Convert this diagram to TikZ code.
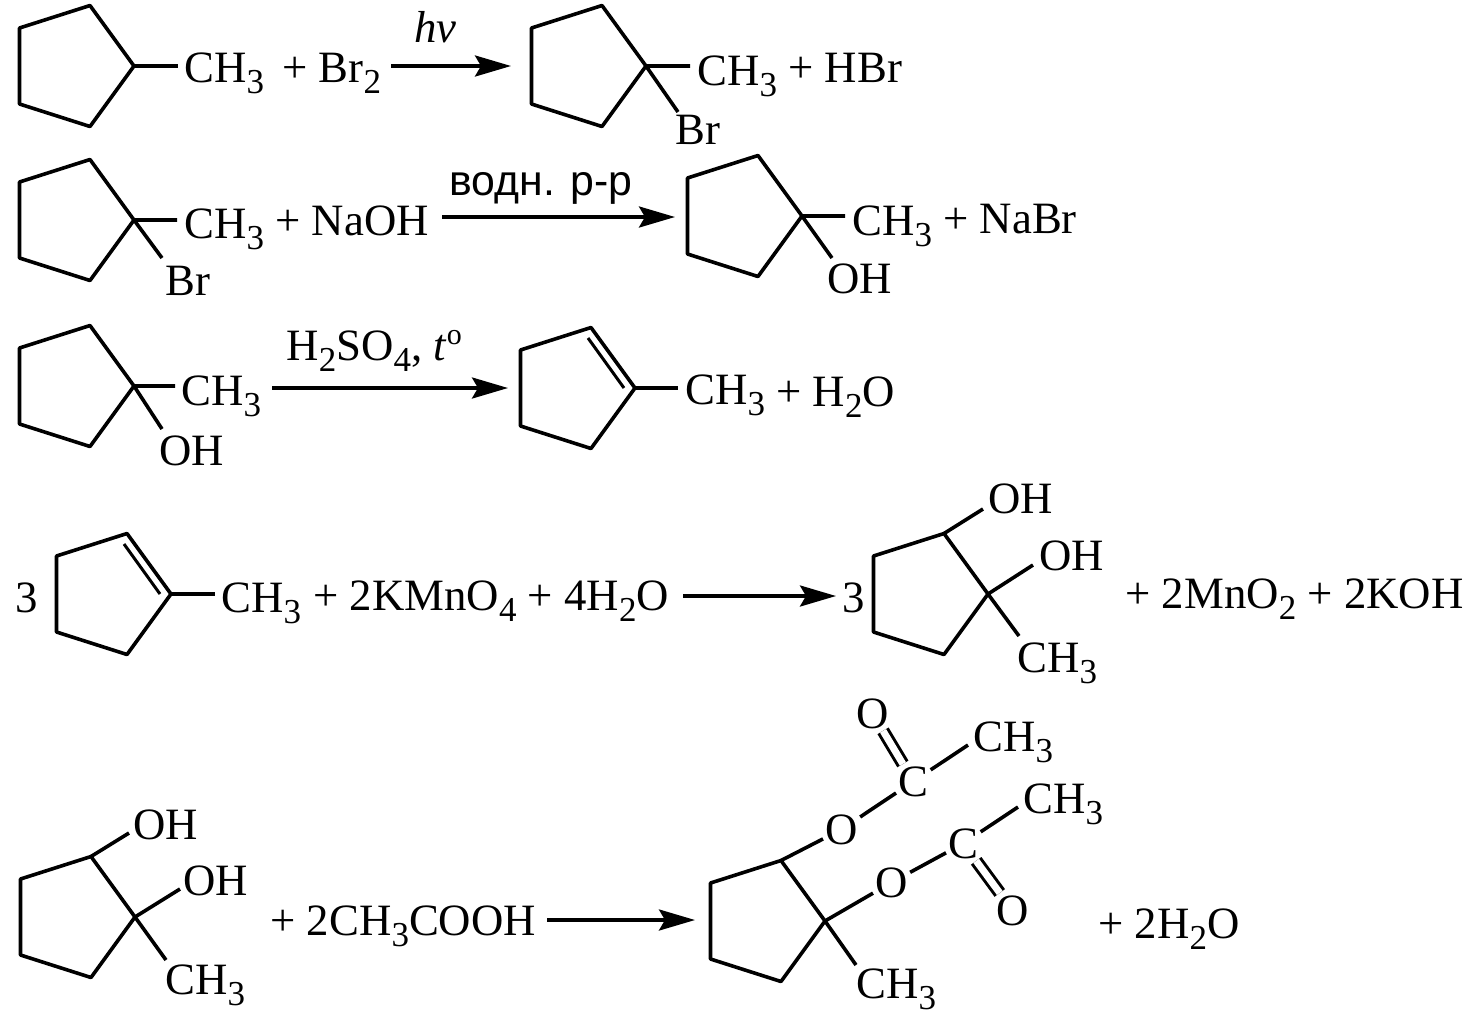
\documentclass[tikz,border=0pt]{standalone}
\usepackage{fontspec}
\setmainfont{Liberation Serif}
\newfontfamily\sansfont{Liberation Sans}
\usetikzlibrary{arrows.meta}
\newcommand{\sbs}[1]{\raisebox{-5.5pt}{\fontsize{17.5}{18}\selectfont #1}}
\newcommand{\sps}[1]{\raisebox{8pt}{\fontsize{15}{16}\selectfont #1}}
% saturated ring, #1 = prefix, (#2,#3) = right vertex
\newcommand{\cyclo}[3]{
  \coordinate (#1a) at (#2,#3);
  \coordinate (#1b) at (#2-44,#3-60.5);
  \coordinate (#1c) at (#2-114.5,#3-38);
  \coordinate (#1d) at (#2-114.5,#3+38);
  \coordinate (#1e) at (#2-44,#3+60.5);
  \draw[bond] (#1a) -- (#1b) -- (#1c) -- (#1d) -- (#1e) -- cycle;
}
% ring with double bond a=b
\newcommand{\cyclene}[3]{
  \cyclo{#1}{#2}{#3}
  \coordinate (#1p) at (#2-47,#3-50);
  \coordinate (#1q) at (#2-11,#3);
  \draw[bondthin] (#1p) -- (#1q);
}
\begin{document}
\begin{tikzpicture}[x=0.5pt,y=-0.5pt,
    txt/.style={inner sep=0pt,anchor=base west,font=\fontsize{22.4}{26}\selectfont},
    atom/.style={inner sep=1pt,anchor=base west,font=\fontsize{22.4}{26}\selectfont},
    bond/.style={line width=1.8pt,line join=round},
    bondthin/.style={line width=1.5pt},
    dbl/.style={line width=1.5pt,double,double distance=3.5pt},
    react/.style={line width=1.8pt,-{Stealth[length=18pt,width=10.5pt,inset=3pt]}}]
  \useasboundingbox (0,0) rectangle (1478,1014);

  % line 1
  \cyclo{r}{134}{66}
  \coordinate (rm) at (178,66);
  \draw[bond] (ra) -- (rm);
  \node[txt] (ch3a) at (184,82) {CH\sbs{3}};
  \node[txt] (br2) at (282,82) {+ Br\sbs{2}};
  \node[txt] (hv) at (414,42) {\textit{hv}};
  \coordinate (a1s) at (391,66);
  \coordinate (a1e) at (511,66);
  \draw[react] (a1s) -- (a1e);
  \cyclo{s}{646}{66}
  \coordinate (sm) at (690,66);
  \coordinate (sx) at (678,112);
  \draw[bond] (sm) -- (sa) -- (sx);
  \node[txt] (ch3b) at (697,85) {CH\sbs{3}};
  \node[txt] (hbr) at (788,82) {+ HBr};
  \node[txt] (bra) at (675,144) {Br};

  % line 2
  \cyclo{t}{134}{220}
  \coordinate (tm) at (177,220);
  \coordinate (tx) at (162,258);
  \draw[bond] (tm) -- (ta) -- (tx);
  \node[txt] (ch3c) at (184,238) {CH\sbs{3}};
  \node[txt] (naoh) at (275,235) {+ NaOH};
  \node[txt] (brb) at (165,295) {Br};
  \node[inner sep=0pt,anchor=base west,font=\sansfont\fontsize{21.4}{24}\selectfont] (aq) at (449,195) {водн. р-р};
  \coordinate (a2s) at (442,217);
  \coordinate (a2e) at (675,217);
  \draw[react] (a2s) -- (a2e);
  \cyclo{u}{802}{216}
  \coordinate (um) at (845,216);
  \coordinate (ux) at (832,258);
  \draw[bond] (um) -- (ua) -- (ux);
  \node[txt] (ch3d) at (852,235) {CH\sbs{3}};
  \node[txt] (nabr) at (943,233) {+ NaBr};
  \node[txt] (oha) at (827,293) {OH};

  % line 3
  \cyclo{v}{134}{386}
  \coordinate (vm) at (175,386);
  \coordinate (vx) at (162,429);
  \draw[bond] (vm) -- (va) -- (vx);
  \node[txt] (ch3e) at (181,405) {CH\sbs{3}};
  \node[txt] (ohb) at (159,465) {OH};
  \node[txt] (acid) at (286,360) {H\sbs{2}SO\sbs{4}, \textit{t}\sps{o}};
  \coordinate (a3s) at (272,388);
  \coordinate (a3e) at (508,388);
  \draw[react] (a3s) -- (a3e);
  \cyclene{w}{635}{388}
  \coordinate (wm) at (678,388);
  \draw[bond] (wa) -- (wm);
  \node[txt] (ch3f) at (685,404) {CH\sbs{3}};
  \node[txt] (h2oa) at (776,406) {+ H\sbs{2}O};

  % line 4
  \node[txt] (coefa) at (15,612) {3};
  \cyclene{y}{171}{594}
  \coordinate (ym) at (215,594);
  \draw[bond] (ya) -- (ym);
  \node[txt] (ch3g) at (221,612) {CH\sbs{3}};
  \node[txt] (kmno) at (313,610) {+ 2KMnO\sbs{4} + 4H\sbs{2}O};
  \coordinate (a4s) at (683,596);
  \coordinate (a4e) at (836,596);
  \draw[react] (a4s) -- (a4e);
  \node[txt] (coefb) at (842,612) {3};
  \cyclo{z}{988}{594}
  \coordinate (zp) at (983,509);
  \coordinate (zm) at (1033,565);
  \coordinate (zx) at (1019,636);
  \draw[bond] (zb) -- (zp);
  \draw[bond] (zm) -- (za) -- (zx);
  \node[txt] (ohc) at (988,513) {OH};
  \node[txt] (ohd) at (1039,570) {OH};
  \node[txt] (ch3h) at (1017,672) {CH\sbs{3}};
  \node[txt] (mno) at (1125,608) {+ 2MnO\sbs{2} + 2KOH};

  % line 5
  \cyclo{g}{135}{917}
  \coordinate (gp) at (129,833);
  \coordinate (gm) at (180,889);
  \coordinate (gx) at (166,960);
  \draw[bond] (gb) -- (gp);
  \draw[bond] (gm) -- (ga) -- (gx);
  \node[txt] (ohe) at (133,839) {OH};
  \node[txt] (ohf) at (183,895) {OH};
  \node[txt] (ch3i) at (165,994) {CH\sbs{3}};
  \node[txt] (acoh) at (270,935) {+ 2CH\sbs{3}COOH};
  \coordinate (a5s) at (547,920);
  \coordinate (a5e) at (695,920);
  \draw[react] (a5s) -- (a5e);
  \cyclo{h}{825}{921}

  % ester groups
  \node[atom] (oa) at (823,844) {O};
  \node[atom] (ca) at (896,796) {C};
  \node[atom] (ka) at (854,728) {O};
  \node[txt] (ch3j) at (973,751) {CH\sbs{3}};
  \node[atom] (ob) at (873,897) {O};
  \node[atom] (cb) at (946,858) {C};
  \node[atom] (kb) at (994,925) {O};
  \node[txt] (ch3k) at (1023,813) {CH\sbs{3}};
  \node[txt] (ch3l) at (856,998) {CH\sbs{3}};
  \node[txt] (h2ob) at (1098,938) {+ 2H\sbs{2}O};
  \coordinate (hm) at (968,745);
  \coordinate (hn) at (1018,807);
  \coordinate (hx) at (856,965);
  \draw[bond] (hb) -- (oa) -- (ca);
  \draw[bond] (ha) -- (ob) -- (cb);
  \draw[bond] (ha) -- (hx);
  \draw[bond] (ca) -- (hm);
  \draw[bond] (cb) -- (hn);
  \draw[dbl] (ca) -- (ka);
  \draw[dbl] (cb) -- (kb);
\end{tikzpicture}
\end{document}
